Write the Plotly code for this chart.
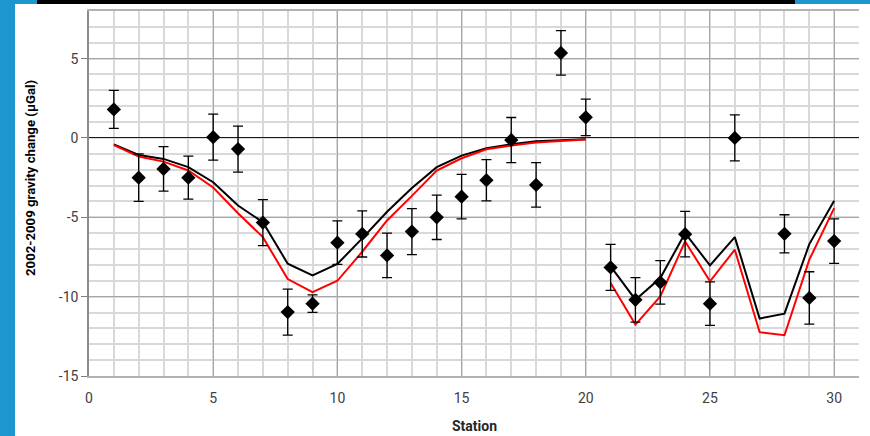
import plotly.graph_objects as go

stations = list(range(1, 31))
# observed gravity change (None = no measurement)
observed = [1.8, -2.5, -1.95, -2.5, 0.05, -0.7, -5.33, -10.97, -10.44, -6.6,
            -6.05, -7.4, -5.9, -5.0, -3.7, -2.66, -0.13, -2.96, 5.36, 1.3,
            -8.16, -10.2, -9.1, -6.06, -10.44, 0.0, None, -6.04, -10.08, -6.5]
errors = [1.2, 1.5, 1.4, 1.35, 1.45, 1.45, 1.45, 1.45, 0.55, 1.37,
          1.45, 1.4, 1.45, 1.4, 1.4, 1.3, 1.42, 1.4, 1.4, 1.15,
          1.45, 1.4, 1.37, 1.43, 1.37, 1.45, None, 1.2, 1.65, 1.4]
# model curves (None = gap between profiles)
model_black = [-0.4, -1.07, -1.32, -1.84, -2.79, -4.26, -5.31, -7.92, -8.66, -7.94,
               -6.33, -4.65, -3.15, -1.84, -1.11, -0.65, -0.4, -0.21, -0.15, -0.08,
               None,
               -8.09, -10.19, -8.83, -6.0, -8.03, -6.25, -11.38, -11.07, -6.69, -3.96]
model_red = [-0.45, -1.17, -1.49, -2.05, -3.12, -4.74, -6.25, -8.89, -9.71, -9.0,
             -7.17, -5.2, -3.65, -2.05, -1.28, -0.71, -0.48, -0.29, -0.19, -0.1,
             None,
             -9.14, -11.76, -9.98, -6.52, -9.03, -7.04, -12.24, -12.43, -7.67, -4.42]
model_x = list(range(1, 21)) + [20.5] + list(range(21, 31))

x_ticks = [0, 5, 10, 15, 20, 25, 30]
y_ticks = [5, 0, -5, -10, -15]
y_tick_text = ["5", "0", "-5", "-10", "-15"]

fig = go.Figure()
fig.add_trace(go.Scatter(x=model_x, y=model_black, mode="lines",
                         line=dict(color="black", width=2), connectgaps=False,
                         showlegend=False, hoverinfo="skip"))
fig.add_trace(go.Scatter(x=model_x, y=model_red, mode="lines",
                         line=dict(color="#ff0000", width=2), connectgaps=False,
                         showlegend=False, hoverinfo="skip"))
fig.add_trace(go.Scatter(x=stations, y=observed, mode="markers",
                         marker=dict(symbol="diamond", size=11, color="black"),
                         error_y=dict(type="data", array=errors, visible=True,
                                      color="black", thickness=1.3, width=5),
                         showlegend=False))

tick_font = dict(family="Roboto, Arial, sans-serif", size=14, color="#404040")

fig.update_layout(
    width=870, height=436,
    margin=dict(l=89, r=11, t=11, b=60),
    paper_bgcolor="white", plot_bgcolor="white",
    xaxis=dict(range=[0, 31], tickvals=x_ticks, ticks="", tickfont=tick_font,
               ticklabelstandoff=8, automargin=False,
               showgrid=True, gridcolor="#a6a6a6", gridwidth=1,
               minor=dict(dtick=1, showgrid=True, gridcolor="#d9d9d9", gridwidth=1.5),
               zeroline=False, showline=True, linecolor="#b3b3b3", linewidth=1.5,
               mirror=True),
    yaxis=dict(range=[-15, 8], tickvals=y_ticks, ticktext=y_tick_text, ticks="outside",
               ticklen=6, tickcolor="#7f7f7f", tickfont=tick_font, automargin=False,
               showgrid=True, gridcolor="#a6a6a6", gridwidth=1,
               minor=dict(dtick=1, showgrid=True, gridcolor="#d9d9d9", gridwidth=1.5),
               zeroline=True, zerolinecolor="#1a1a1a", zerolinewidth=1.3,
               showline=True, linecolor="#8c8c8c", linewidth=1.5, mirror=False),
    annotations=[
        dict(text="<b>2002-2009 gravity change (μGal)</b>", textangle=-90,
             xref="paper", yref="paper", x=(30 - 89) / 770, y=(376 - 178) / 365,
             xanchor="center", yanchor="middle", showarrow=False,
             font=dict(family="Liberation Sans Narrow, Arial Narrow, Roboto, sans-serif",
                       size=13.2, color="black")),
        dict(text="<b>Station</b>",
             xref="paper", yref="paper", x=(474 - 89) / 770, y=-(426 - 376) / 365,
             xanchor="center", yanchor="middle", showarrow=False,
             font=dict(family="Roboto, Arial, sans-serif", size=14, color="#262626")),
    ],
    shapes=[
        dict(type="rect", xref="paper", yref="paper", x0=-89/770, x1=-74/770, y0=-60/365, y1=1+11/365,
             fillcolor="#1d95cf", line=dict(width=0), layer="below"),
        dict(type="rect", xref="paper", yref="paper", x0=-74/770, x1=-52/770, y0=1+7/365, y1=1+11/365,
             fillcolor="#1d95cf", line=dict(width=0), layer="below"),
        dict(type="rect", xref="paper", yref="paper", x0=-52/770, x1=706/770, y0=1+7/365, y1=1+11/365,
             fillcolor="#000000", line=dict(width=0), layer="below"),
        dict(type="rect", xref="paper", yref="paper", x0=706/770, x1=781/770, y0=1+7/365, y1=1+11/365,
             fillcolor="#1d95cf", line=dict(width=0), layer="below"),
    ],
)

fig.write_html("out.html")
